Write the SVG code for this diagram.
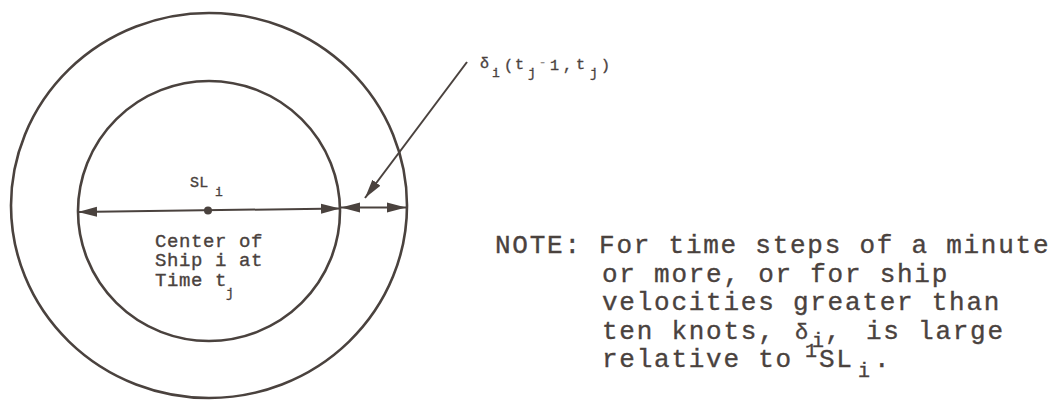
<svg xmlns="http://www.w3.org/2000/svg" width="1057" height="406" viewBox="0 0 1057 406">
<style>
  .ring { fill: none; stroke: #4a423e; stroke-width: 2.6; }
  .dim { fill: none; stroke: #4a423e; stroke-width: 2; }
  text { font-family: "Liberation Mono", "DejaVu Sans Mono", monospace; fill: #4a423e; stroke: #4a423e; stroke-width: 0.35px; }
  .lbl { font-size: 19px; letter-spacing: 0.6px; }
  .note { font-size: 26px; letter-spacing: 1.75px; }
  .sm { font-size: 15px; }
  .sub { font-size: 13px; }
  .nsub { font-size: 20px; }
</style>
<defs>
  <marker id="ah" markerUnits="userSpaceOnUse" markerWidth="20" markerHeight="12" viewBox="0 0 20 12" refX="19" refY="6" orient="auto-start-reverse">
    <path d="M0,1 L19,6 L0,11 Z" fill="#4a423e"/>
  </marker>
</defs>
<rect width="1057" height="406" fill="#ffffff"/>
<g id="outer-circle">
  <ellipse class="ring" cx="209" cy="205.5" rx="198" ry="192.5"/>
</g>
<g id="inner-circle">
  <ellipse class="ring" cx="209" cy="211" rx="131" ry="130"/>
  <circle cx="208" cy="210.5" r="4" fill="#4a423e"/>
  <text class="sm" x="190" y="187" font-size="16" letter-spacing="0.3">SL</text>
  <text class="sub" x="215" y="196">i</text>
  <text class="lbl" x="155" y="247">Center of</text>
  <text class="lbl" x="155" y="266">Ship i at</text>
  <text class="lbl" x="155" y="286">Time t</text>
  <text class="sub" x="226" y="297">j</text>
</g>
<g id="delta-label">
  <text class="sm">
    <tspan x="480" y="68">δ</tspan>
    <tspan class="sub" x="492" y="77">i</tspan>
    <tspan x="504" y="70">(</tspan>
    <tspan x="515" y="69">t</tspan>
    <tspan class="sub" x="528" y="77">j</tspan>
    <tspan x="539" y="66" font-size="12" opacity="0.6">-</tspan>
    <tspan x="550" y="70">1</tspan>
    <tspan x="563" y="70">,</tspan>
    <tspan x="576" y="69">t</tspan>
    <tspan class="sub" x="590" y="77">j</tspan>
    <tspan x="601" y="70">)</tspan>
  </text>
</g>
<g id="note">
  <text class="note" x="495" y="253">NOTE: For time steps of a minute</text>
  <text class="note" x="602" y="281.5">or more, or for ship</text>
  <text class="note" x="602" y="310">velocities greater than</text>
  <text class="note" y="338.5"><tspan x="602">ten knots,</tspan><tspan x="795" font-size="22">δ</tspan><tspan class="nsub" x="812" y="347">i</tspan><tspan x="825" y="338.5">,</tspan><tspan x="866">is large</tspan></text>
  <text class="note" y="367"><tspan x="602">relative to</tspan><tspan class="nsub" x="805" y="357">1</tspan><tspan x="819" y="367">SL</tspan><tspan class="nsub" x="858" y="377">i</tspan><tspan x="874" y="367">.</tspan></text>
</g>
<g id="connectors">
  <line class="dim" x1="78" y1="212" x2="340" y2="208.5" marker-start="url(#ah)" marker-end="url(#ah)"/>
  <line class="dim" x1="341" y1="207.5" x2="406" y2="207.5" marker-start="url(#ah)" marker-end="url(#ah)"/>
  <line class="dim" x1="467" y1="62" x2="365" y2="198" marker-end="url(#ah)"/>
</g>
</svg>
